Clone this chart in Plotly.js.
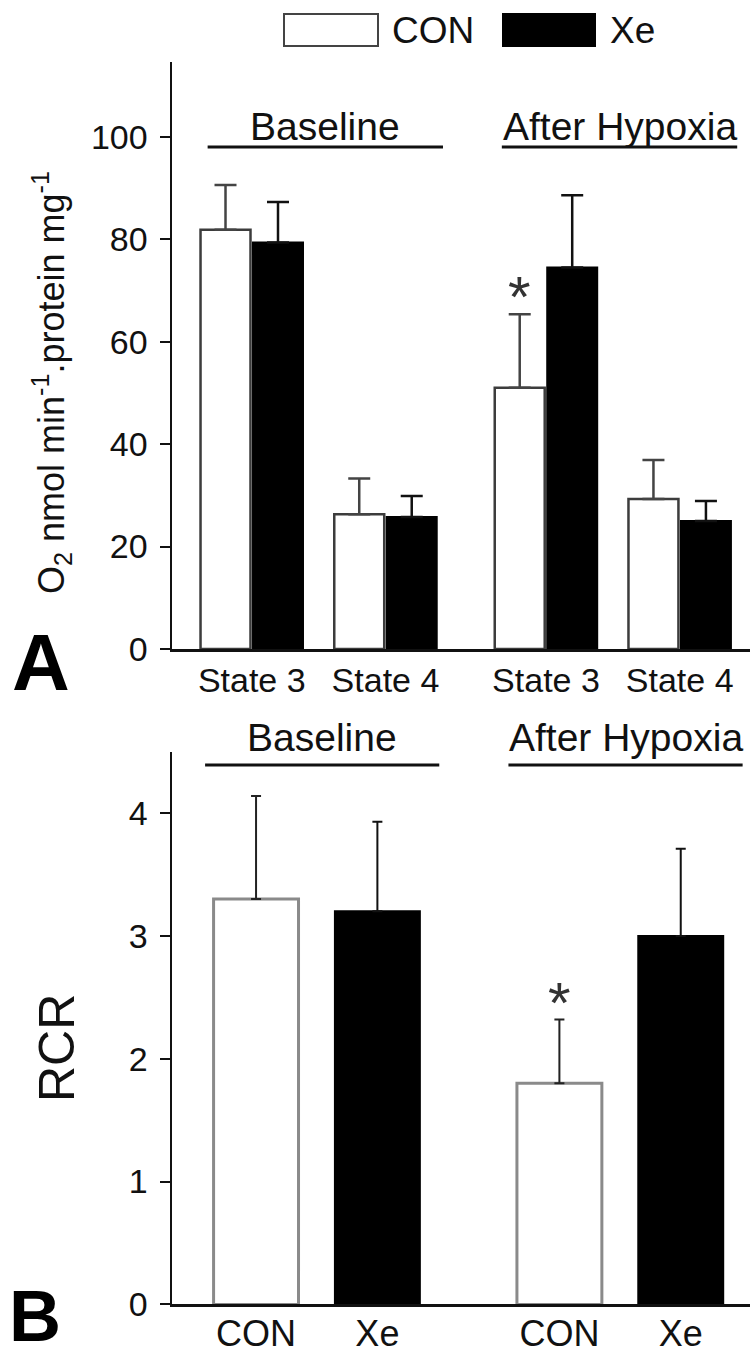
<!DOCTYPE html>
<html>
<head>
<meta charset="utf-8">
<script src="https://cdn.plot.ly/plotly-3.0.1.min.js"></script>
<style>html,body{margin:0;padding:0;background:#fff}</style>
</head>
<body>
<div id="chart" style="width:750px;height:1355px"></div>
<script>
// ---------- data ----------
const seriesNames = ["CON", "Xe"];
const groupNames = ["Baseline", "After Hypoxia"];

// Panel A: O2 consumption (nmol/min/mg protein)
const stateLabels = ["State 3", "State 4"];
const conO2 = [81.9, 26.3, 51.0, 29.3];
const conO2Err = [8.7, 7.0, 14.4, 7.6];
const xeO2 = [79.4, 25.8, 74.5, 25.0];
const xeO2Err = [7.9, 4.1, 14.1, 3.9];
const o2Ticks = [0, 20, 40, 60, 80, 100];
const sigA = [false, false, true, false];   // * on CON bars

// Panel B: RCR
const rcrLabels = ["CON", "Xe", "CON", "Xe"];
const rcrValues = [3.30, 3.20, 1.80, 3.00];
const rcrErr = [0.84, 0.73, 0.52, 0.71];
const rcrTicks = [0, 1, 2, 3, 4];
const sigB = [false, false, true, false];

// ---------- styling ----------
const FONT = '"Liberation Sans", Arial, Helvetica, sans-serif';
const INK = '#111';
const CON_LINE = '#3c3c3c';
const GROUP_STEP_A = 2.2, GROUP_STEP_B = 2.5;

const posA = [];
groupNames.forEach((g, gi) => stateLabels.forEach((s, si) => posA.push(1 + gi * GROUP_STEP_A + si)));
const tickTextA = groupNames.flatMap(() => stateLabels);
const posB = [];
groupNames.forEach((g, gi) => seriesNames.forEach((s, si) => posB.push(1 + gi * GROUP_STEP_B + si)));

const zeros = n => new Array(n).fill(0);

const traces = [
  {
    type: 'bar', name: seriesNames[0], x: posA, y: conO2, xaxis: 'x', yaxis: 'y',
    marker: {color: '#ffffff', line: {color: CON_LINE, width: 2.5}},
    error_y: {type: 'data', array: conO2Err, arrayminus: zeros(4), symmetric: false,
              color: '#444', thickness: 2.5, width: 11}
  },
  {
    type: 'bar', name: seriesNames[1], x: posA, y: xeO2, xaxis: 'x', yaxis: 'y',
    marker: {color: '#000000', line: {color: '#000', width: 2}},
    error_y: {type: 'data', array: xeO2Err, arrayminus: zeros(4), symmetric: false,
              color: INK, thickness: 2.5, width: 11}
  }
];

const bCon = {x: [], y: [], e: []}, bXe = {x: [], y: [], e: []};
rcrLabels.forEach((lab, i) => {
  const t = (lab === seriesNames[0]) ? bCon : bXe;
  t.x.push(posB[i]); t.y.push(rcrValues[i]); t.e.push(rcrErr[i]);
});
traces.push({
  type: 'bar', name: seriesNames[0], x: bCon.x, y: bCon.y, xaxis: 'x2', yaxis: 'y2',
  width: 0.70, offset: -0.35,
  marker: {color: '#ffffff', line: {color: '#8a8a8a', width: 3}},
  error_y: {type: 'data', array: bCon.e, arrayminus: zeros(bCon.e.length), symmetric: false,
            color: '#222', thickness: 2, width: 5}
});
traces.push({
  type: 'bar', name: seriesNames[1], x: bXe.x, y: bXe.y, xaxis: 'x2', yaxis: 'y2',
  width: 0.70, offset: -0.35,
  marker: {color: '#000000', line: {color: '#000', width: 2}},
  error_y: {type: 'data', array: bXe.e, arrayminus: zeros(bXe.e.length), symmetric: false,
            color: INK, thickness: 2, width: 5}
});

// ---------- annotations & shapes ----------
const annotations = [];
const shapes = [];

function groupHeader(xaxisRef, positions, padL, padR, lineY, textY, size) {
  groupNames.forEach((g, gi) => {
    const first = positions[gi * 2], last = positions[gi * 2 + 1];
    const x0 = first - padL, x1 = last + padR;
    shapes.push({type: 'line', xref: xaxisRef, yref: 'paper', x0: x0, x1: x1, y0: lineY, y1: lineY,
                 line: {color: INK, width: 3}});
    annotations.push({xref: xaxisRef, yref: 'paper', x: (x0 + x1) / 2, y: textY, text: g,
                      showarrow: false, font: {size: size, family: FONT, color: INK},
                      xanchor: 'center', yanchor: 'middle'});
  });
}
groupHeader('x', posA, 0.33, 0.43, 1 - 147 / 1355, 1 - 127 / 1355, 39);
groupHeader('x2', posB, 0.42, 0.51, 1 - 765 / 1355, 1 - 737 / 1355, 39);

sigA.forEach((s, i) => {
  if (!s) return;
  annotations.push({xref: 'x', yref: 'y', x: posA[i] - 0.196, y: conO2[i] + conO2Err[i], text: '*',
                    showarrow: false, yanchor: 'middle', yshift: 18,
                    font: {size: 58, family: FONT, color: '#333'}});
});
rcrLabels.forEach((l, i) => {
  if (!sigB[i]) return;
  annotations.push({xref: 'x2', yref: 'y2', x: posB[i], y: rcrValues[i] + rcrErr[i], text: '*',
                    showarrow: false, yanchor: 'middle', yshift: 17,
                    font: {size: 58, family: FONT, color: '#333'}});
});

annotations.push({xref: 'paper', yref: 'paper', x: -0.2266, y: 1 - 662 / 1355, text: '<b>A</b>',
                  showarrow: false, xanchor: 'center', yanchor: 'middle',
                  font: {size: 80, family: FONT, color: '#000'}});
annotations.push({xref: 'paper', yref: 'paper', x: -0.237, y: 1 - 1316 / 1355, text: '<b>B</b>',
                  showarrow: false, xanchor: 'center', yanchor: 'middle',
                  font: {size: 72, family: FONT, color: '#000'}});

annotations.push({xref: 'paper', yref: 'paper', x: (52 - 172) / 578, y: 1 - 383 / 1355,
                  text: 'O<sub>2</sub> nmol min<sup>-1</sup>.protein mg<sup>-1</sup>',
                  textangle: -90, showarrow: false, xanchor: 'center', yanchor: 'middle',
                  font: {size: 36, family: FONT, color: INK}});
annotations.push({xref: 'paper', yref: 'paper', x: (57 - 172) / 578, y: 1 - 1048 / 1355,
                  text: 'RCR', textangle: -90, showarrow: false, xanchor: 'center', yanchor: 'middle',
                  font: {size: 50, family: FONT, color: INK}});

const legendItems = [
  {name: seriesNames[0], fill: '#ffffff', line: '#444', x0: 284, x1: 378, tx: 390},
  {name: seriesNames[1], fill: '#000000', line: '#000', x0: 503, x1: 595, tx: 608}
];
legendItems.forEach(it => {
  shapes.push({type: 'rect', xref: 'paper', yref: 'paper',
               x0: (it.x0 - 172) / 578, x1: (it.x1 - 172) / 578,
               y0: 1 - 46 / 1355, y1: 1 - 14 / 1355,
               fillcolor: it.fill, line: {color: it.line, width: 2}});
  annotations.push({xref: 'paper', yref: 'paper', x: (it.tx - 172) / 578, y: 1 - 30 / 1355,
                    text: it.name, showarrow: false, xanchor: 'left', yanchor: 'middle',
                    font: {size: 37, family: FONT, color: INK}});
});

// ---------- axes ----------
const axisCommon = {
  showline: true, linewidth: 2.5, linecolor: INK, showgrid: false, zeroline: false,
  fixedrange: true, automargin: false, tickfont: {size: 34, family: FONT, color: INK}
};

const layout = {
  width: 750, height: 1355,
  margin: {l: 172, r: 0, t: 0, b: 0},
  paper_bgcolor: '#ffffff', plot_bgcolor: 'rgba(0,0,0,0)',
  showlegend: false,
  barmode: 'group', bargap: 0.215, bargroupgap: 0.048,
  font: {family: FONT, color: INK, size: 34},
  xaxis: Object.assign({}, axisCommon, {
    domain: [0, 1], anchor: 'y', range: [0.4036, 4.7257],
    tickmode: 'array', tickvals: posA, ticktext: tickTextA, ticks: ''
  }),
  yaxis: Object.assign({}, axisCommon, {
    domain: [1 - 649 / 1355, 1 - 61.7 / 1355], anchor: 'x', range: [0, 114.7],
    tickmode: 'array', tickvals: o2Ticks, ticks: 'outside', ticklen: 10, tickwidth: 2, tickcolor: INK,
    ticklabelstandoff: 5
  }),
  xaxis2: Object.assign({}, axisCommon, {
    domain: [0, 1], anchor: 'y2', range: [0.3073, 5.0708],
    tickmode: 'array', tickvals: posB, ticktext: rcrLabels, ticks: '',
    tickfont: {size: 36, family: FONT, color: INK}, ticklabelstandoff: -4
  }),
  yaxis2: Object.assign({}, axisCommon, {
    domain: [1 - 1304.4 / 1355, 1 - 751.7 / 1355], anchor: 'x2', range: [0, 4.5],
    tickmode: 'array', tickvals: rcrTicks, ticks: 'outside', ticklen: 10, tickwidth: 2, tickcolor: INK,
    ticklabelstandoff: 5
  }),
  annotations: annotations,
  shapes: shapes
};

Plotly.newPlot('chart', traces, layout, {displayModeBar: false, staticPlot: true});
</script>
</body>
</html>
